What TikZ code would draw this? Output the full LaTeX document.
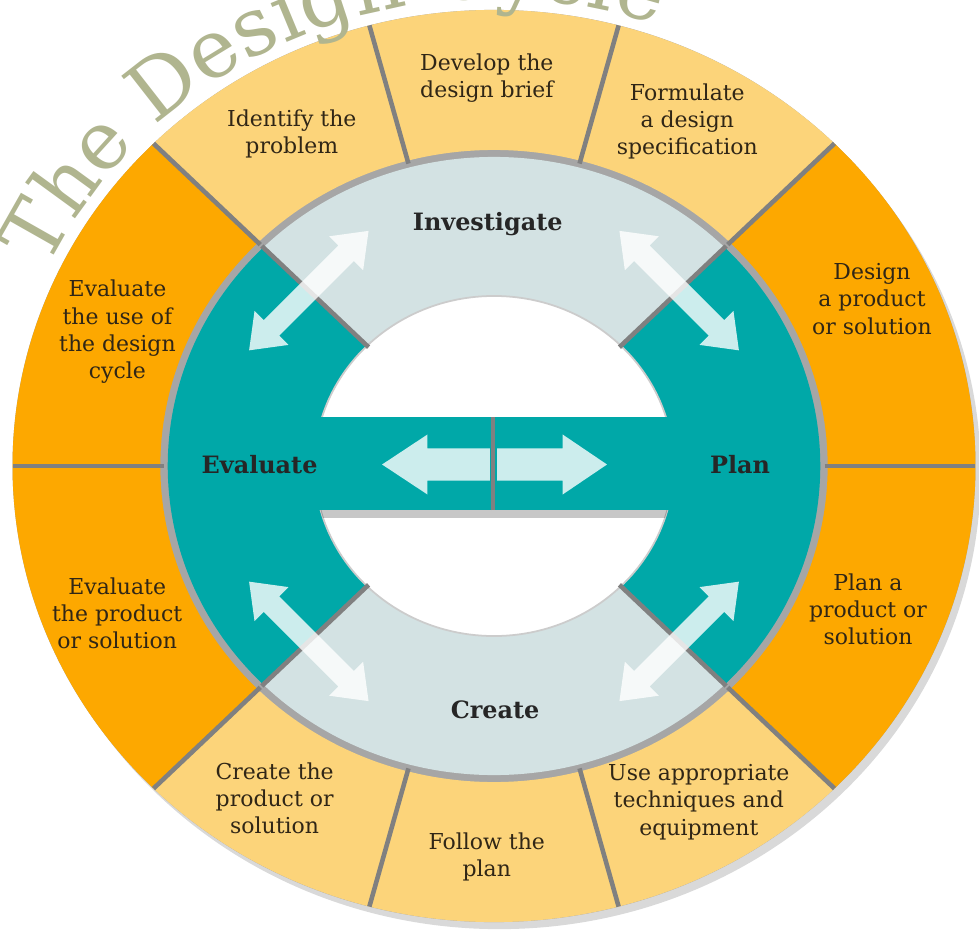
\documentclass[tikz,border=0pt]{standalone}
\usepackage{fontspec}
\usetikzlibrary{decorations.text,shadows}
\newfontfamily\cyclelabelfont{DejaVu Serif}
\newcommand\cycletitlefont{\cyclelabelfont\fontsize{46}{46}\selectfont}
\definecolor{deeporange}{RGB}{253,168,0}
\definecolor{paleorange}{RGB}{252,212,122}
\definecolor{cycleteal}{RGB}{0,168,168}
\definecolor{palegray}{RGB}{211,226,227}
\definecolor{gapgray}{RGB}{128,128,128}
\definecolor{titleolive}{RGB}{176,181,143}
\definecolor{labelbrown}{RGB}{48,38,22}

\tikzset{
  seglabel/.style={align=center, text=labelbrown, font=\cyclelabelfont\fontsize{12.5}{15.5}\selectfont},
  phaselabel/.style={text=black!85, font=\cyclelabelfont\bfseries\fontsize{13.6}{16}\selectfont},
  gapline/.style={draw=gapgray, line width=2.6pt},
  softarrow/.style={fill=white, fill opacity=0.8},
}

\begin{document}
\begin{tikzpicture}[x=0.02112cm, y=0.02cm]
\useasboundingbox (-9.88cm,-9.44cm) rectangle (9.70cm,9.32cm);

% backing disc
\fill[gapgray!70, drop shadow={shadow xshift=3pt, shadow yshift=-4pt, opacity=0.3}] (0,0) circle[radius=456];

% outer ring of tasks
\foreach \from/\to/\col in {-45/0/deeporange, 0/45/deeporange, 45/75/paleorange, 75/105/paleorange, 105/135/paleorange,
    135/180/deeporange, 180/225/deeporange, 225/255/paleorange, 255/285/paleorange, 285/315/paleorange}
  \fill[\col] (\from:316) arc[start angle=\from, end angle=\to, radius=316] -- (\to:456)
    arc[start angle=\to, end angle=\from, radius=456] -- cycle;

% ring of phases
\foreach \from/\to/\col in {-45/45/cycleteal, 45/135/palegray, 135/225/cycleteal, 225/315/palegray}
  \fill[\col] (\from:170) arc[start angle=\from, end angle=\to, radius=170] -- (\to:309)
    arc[start angle=\to, end angle=\from, radius=309] -- cycle;

% hole and middle bar
\fill[white] (0,0) circle[radius=170];
\draw[gapgray!40, line width=1pt] (0,0) circle[radius=170];
\begin{scope}
  \clip (0,0) circle[radius=170];
  \fill[black, opacity=0.22] (-200,-52) rectangle (200,-44);
\end{scope}
\fill[cycleteal] (-200,-44) rectangle (200,49);
\draw[gapline, line width=2pt] (-1,-44) -- (-1,49);

% gaps between segments
\foreach \ang in {45,135,225,315}
  \draw[gapline] (\ang:168) -- (\ang:311);
\foreach \ang in {0,45,75,105,135,180,225,255,285,315}
  \draw[gapline] (\ang:313) -- (\ang:456);

% arrows
\fill[softarrow] (-106,1.5) -- (-63,31.5) -- (-63,17.5) -- (-4,17.5) -- (-4,-14.5) -- (-63,-14.5) -- (-63,-28.5) -- cycle;
\fill[softarrow] (107,1.5) -- (65,31.5) -- (65,17.5) -- (3,17.5) -- (3,-14.5) -- (65,-14.5) -- (65,-28.5) -- cycle;
\foreach \ang in {45,135,225,315}
  \fill[softarrow, shift={(\ang:248)}, rotate=\ang+90]
    (-80,0) -- (-50,24) -- (-50,11) -- (50,11) -- (50,24) -- (80,0) -- (50,-24) -- (50,-11) -- (-50,-11) -- (-50,-24) -- cycle;

% task labels
\node[seglabel] (identify) at (120:383) {Identify the\\problem};
\node[seglabel] (brief) at (91:388) {Develop the\\design brief};
\node[seglabel] (spec) at (62:390) {Formulate\\a design\\specification};
\node[seglabel] (design) at (25:395) {Design\\a product\\or solution};
\node[seglabel] (planit) at (-22:382) {Plan a\\product or\\solution};
\node[seglabel] (techniques) at (-60:388) {Use appropriate\\techniques and\\equipment};
\node[seglabel] (follow) at (-91:391) {Follow the\\plan};
\node[seglabel] (createit) at (-122:392) {Create the\\product or\\solution};
\node[seglabel] (evalproduct) at (-157.6:386) {Evaluate\\the product\\or solution};
\node[seglabel] (evalcycle) at (159.4:381) {Evaluate\\the use of\\the design\\cycle};

% phase labels
\node[phaselabel] (investigate) at (-6,242) {Investigate};
\node[phaselabel] (plan) at (233,1) {Plan};
\node[phaselabel] (create) at (1,-244) {Create};
\node[phaselabel] (evaluate) at (-222,1) {Evaluate};

% title round the top
\path[decorate, decoration={text along path, text color=titleolive, text align=left,
    text={|\cycletitlefont|The Design Cycle}}]
  (155:467) arc[start angle=155, end angle=20, radius=467];
\end{tikzpicture}
\end{document}
